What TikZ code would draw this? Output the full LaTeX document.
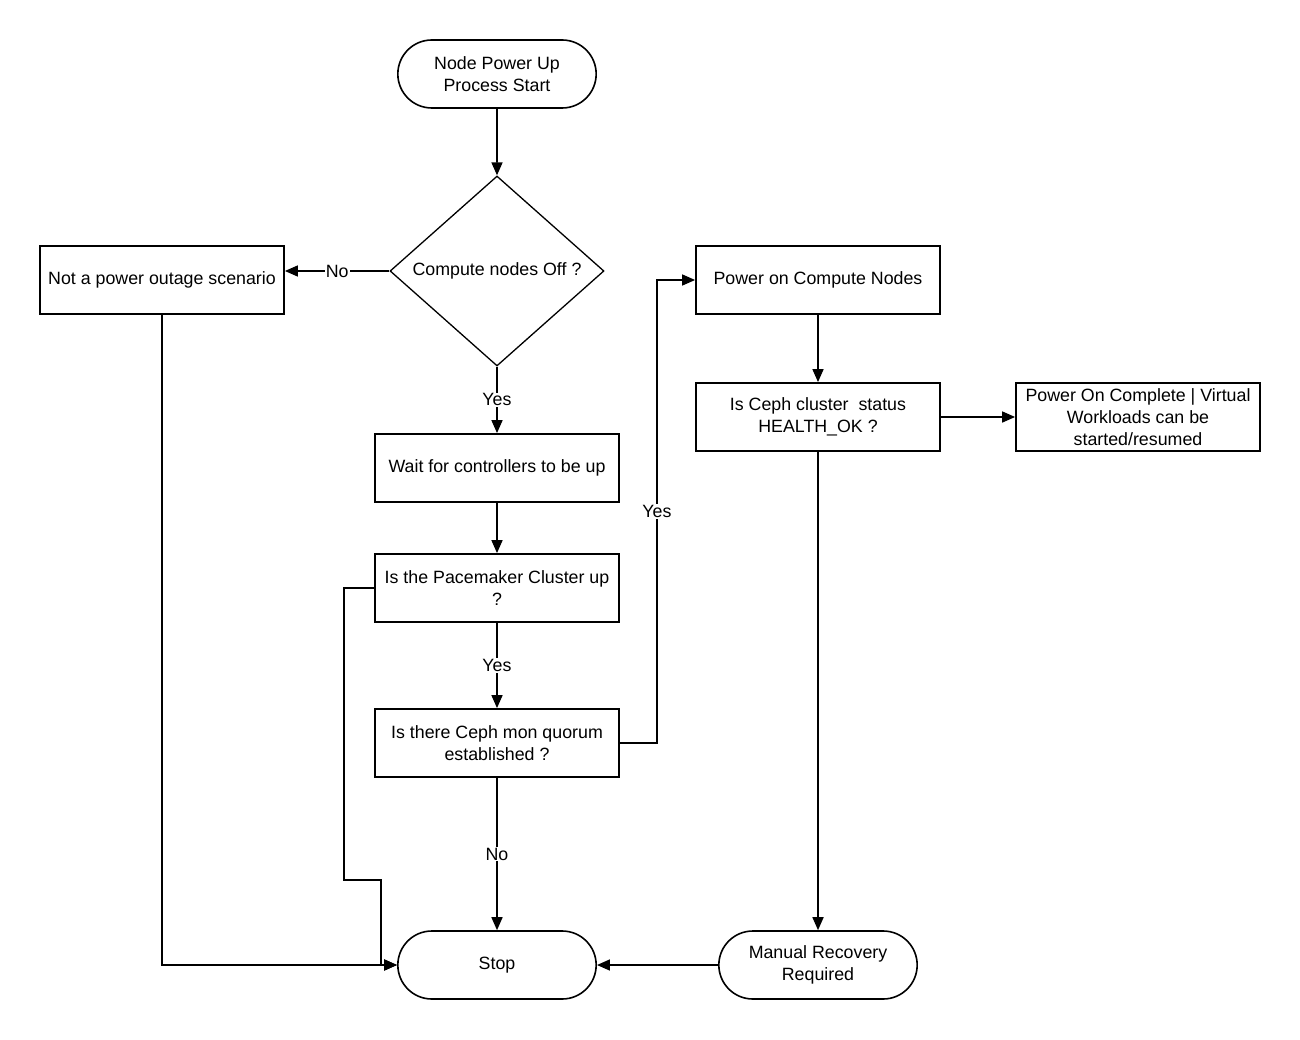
\documentclass[tikz,border=0pt]{standalone}
\usepackage{fontspec}
\setmainfont{Liberation Sans}
\usetikzlibrary{shapes.geometric,shapes.misc,arrows.meta}

\tikzset{
  box/.style={draw,line width=1.8pt,rectangle,minimum width=244pt,minimum height=68pt,align=center,inner sep=2pt},
  term/.style={draw,line width=1.6pt,rounded rectangle,minimum width=205pt,minimum height=68pt,align=center},
  decide/.style={draw,line width=1.3pt,diamond,aspect=1.13,minimum width=214pt,minimum height=190pt,inner sep=0pt,align=center},
  flow/.style={line width=1.6pt,-{Triangle[length=13pt,width=11pt]}},
  lbl/.style={fill=white,inner sep=1pt},
}

\begin{document}
\begin{tikzpicture}[x=1pt,y=-1pt,font=\fontsize{17.8}{22}\selectfont]
  % Page frame
  \fill[white] (0,0) rectangle (1300,1040);
  \useasboundingbox (0,0) rectangle (1300,1040);

  % Left column
  \node[term]   (start)  at (497,74)  {Node Power Up\\Process Start};
  \node[decide] (comp)   at (497,271) {Compute nodes Off ?};
  \node[box]    (nopwr)  at (162,280) {Not a power outage scenario};
  \node[box]    (wait)   at (497,468) {Wait for controllers to be up};
  \node[box]    (pcmk)   at (497,588) {Is the Pacemaker Cluster up\\?};
  \node[box]    (mon)    at (497,743) {Is there Ceph mon quorum\\established ?};
  \node[term]   (stop)   at (497,965) {Stop};

  % Right column
  \node[box]    (pwron)  at (818,280)  {Power on Compute Nodes};
  \node[box]    (cephok) at (818,417)  {Is Ceph cluster~ status\\HEALTH\_OK ?};
  \node[box]    (done)   at (1138,417) {Power On Complete | Virtual\\Workloads can be\\started/resumed};
  \node[term]   (manual) at (818,965)  {Manual Recovery\\Required};

  % Bends
  \coordinate (yesbend) at (657,743);
  \coordinate (pkdown)  at (344,880);
  \coordinate (pkover)  at (381,880);

  % Connectors
  \draw[flow] (start) -- (comp);
  \draw[flow] (comp.west) -- node[lbl]{No} (comp.west -| nopwr.east);
  \draw[flow] (comp) -- node[lbl]{Yes} (wait);
  \draw[flow] (wait) -- (pcmk);
  \draw[flow] (pcmk) -- node[lbl]{Yes} (mon);
  \draw[flow] (mon) -- node[lbl]{No} (stop);
  \draw[flow] (mon.east) -- (yesbend) |- node[lbl,pos=0.25]{Yes} (pwron.west);
  \draw[flow] (nopwr.south) |- (stop.west);
  \draw[flow] (pcmk.west) -| (pkdown) -- (pkover) |- (stop.west);
  \draw[flow] (pwron) -- (cephok);
  \draw[flow] (cephok) -- (done);
  \draw[flow] (cephok) -- (manual);
  \draw[flow] (manual) -- (stop);
\end{tikzpicture}
\end{document}
